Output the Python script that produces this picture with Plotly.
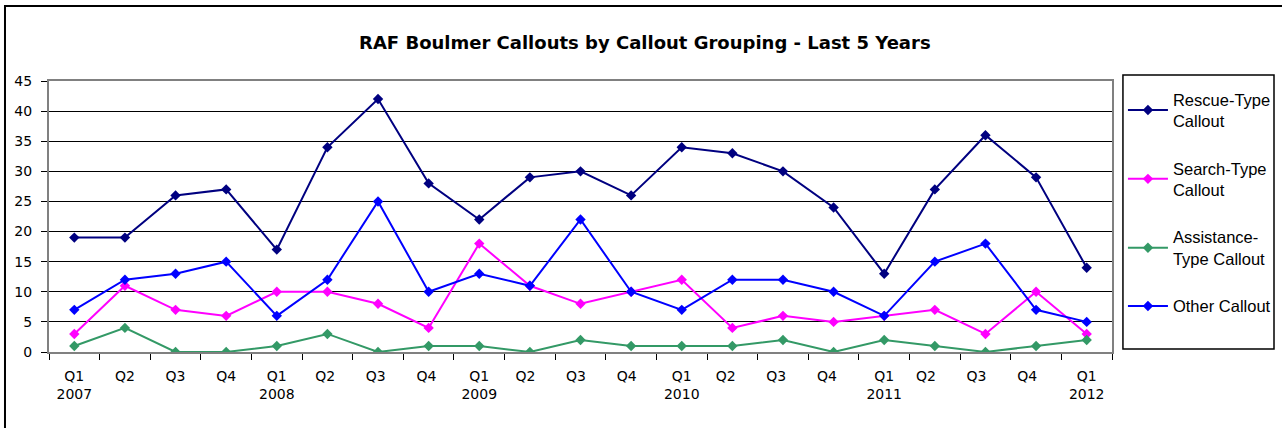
import plotly.graph_objects as go

quarters = ["Q1<br>2007", "Q2", "Q3", "Q4",
            "Q1<br>2008", "Q2 ", "Q3 ", "Q4 ",
            "Q1<br>2009", "Q2  ", "Q3  ", "Q4  ",
            "Q1<br>2010", "Q2   ", "Q3   ", "Q4   ",
            "Q1<br>2011", "Q2    ", "Q3    ", "Q4    ",
            "Q1<br>2012"]

rescue = [19, 19, 26, 27, 17, 34, 42, 28, 22, 29, 30, 26, 34, 33, 30, 24, 13, 27, 36, 29, 14]
search = [3, 11, 7, 6, 10, 10, 8, 4, 18, 11, 8, 10, 12, 4, 6, 5, 6, 7, 3, 10, 3]
assistance = [1, 4, 0, 0, 1, 3, 0, 1, 1, 0, 2, 1, 1, 1, 2, 0, 2, 1, 0, 1, 2]
other = [7, 12, 13, 15, 6, 12, 25, 10, 13, 11, 22, 10, 7, 12, 12, 10, 6, 15, 18, 7, 5]

series = [
    ("Rescue-Type<br>Callout", rescue, "#000080"),
    ("Search-Type<br>Callout", search, "#FF00FF"),
    ("Assistance-<br>Type Callout", assistance, "#339966"),
    ("Other Callout", other, "#0000FF"),
]

fig = go.Figure()

for i, (name, vals, col) in enumerate(series):
    fig.add_trace(go.Scatter(
        x=quarters, y=vals, name=name, mode="lines+markers",
        line=dict(color=col, width=2),
        marker=dict(symbol="diamond", size=8, color=col),
        legendgroup=str(i),
    ))

# outer chart border
fig.add_shape(type="rect", xref="paper", yref="paper",
              x0=-0.0414, x1=1.5, y0=-0.6, y1=1.2768,
              line=dict(color="black", width=2), layer="below")
# legend box
fig.add_shape(type="rect", xref="paper", yref="paper",
              x0=1.0103, x1=1.1524, y0=0.0111, y1=1.0221,
              line=dict(color="black", width=1.5), layer="below")

fig.update_layout(
    width=1282, height=428,
    margin=dict(l=49, r=170, t=81, b=76, autoexpand=False),
    paper_bgcolor="white", plot_bgcolor="white",
    font=dict(family="DejaVu Sans", size=14, color="black"),
    title=dict(text="<b>RAF Boulmer Callouts by Callout Grouping - Last 5 Years</b>",
               x=0.503, xanchor="center", y=0.9, yanchor="middle",
               font=dict(size=18)),
    showlegend=True,
    legend=dict(x=1.0103, y=0.9963, xanchor="left", yanchor="top",
                borderwidth=0, bgcolor="rgba(0,0,0,0)",
                font=dict(family="Liberation Sans, Arial", size=16.5),
                tracegroupgap=23, itemwidth=40, traceorder="grouped"),
    xaxis=dict(type="category", range=[-0.5, len(quarters) - 0.5],
               tickson="boundaries", ticks="outside",
               ticklen=6, tickcolor="black", showline=True, linecolor="#808080",
               linewidth=2, mirror=True, showgrid=False, automargin=False,
               ticklabelstandoff=10, tickfont=dict(size=14)),
    yaxis=dict(range=[0, 45], dtick=5, showgrid=True, gridcolor="black",
               gridwidth=1, ticks="outside", ticklen=6, tickcolor="black",
               showline=True, linecolor="#808080", linewidth=2, mirror=True,
               zeroline=False, automargin=False, ticklabelstandoff=6,
               tickfont=dict(size=14)),
)

fig.write_html("out.html", config={"displayModeBar": False},
               post_script="document.body.style.margin='0';")
